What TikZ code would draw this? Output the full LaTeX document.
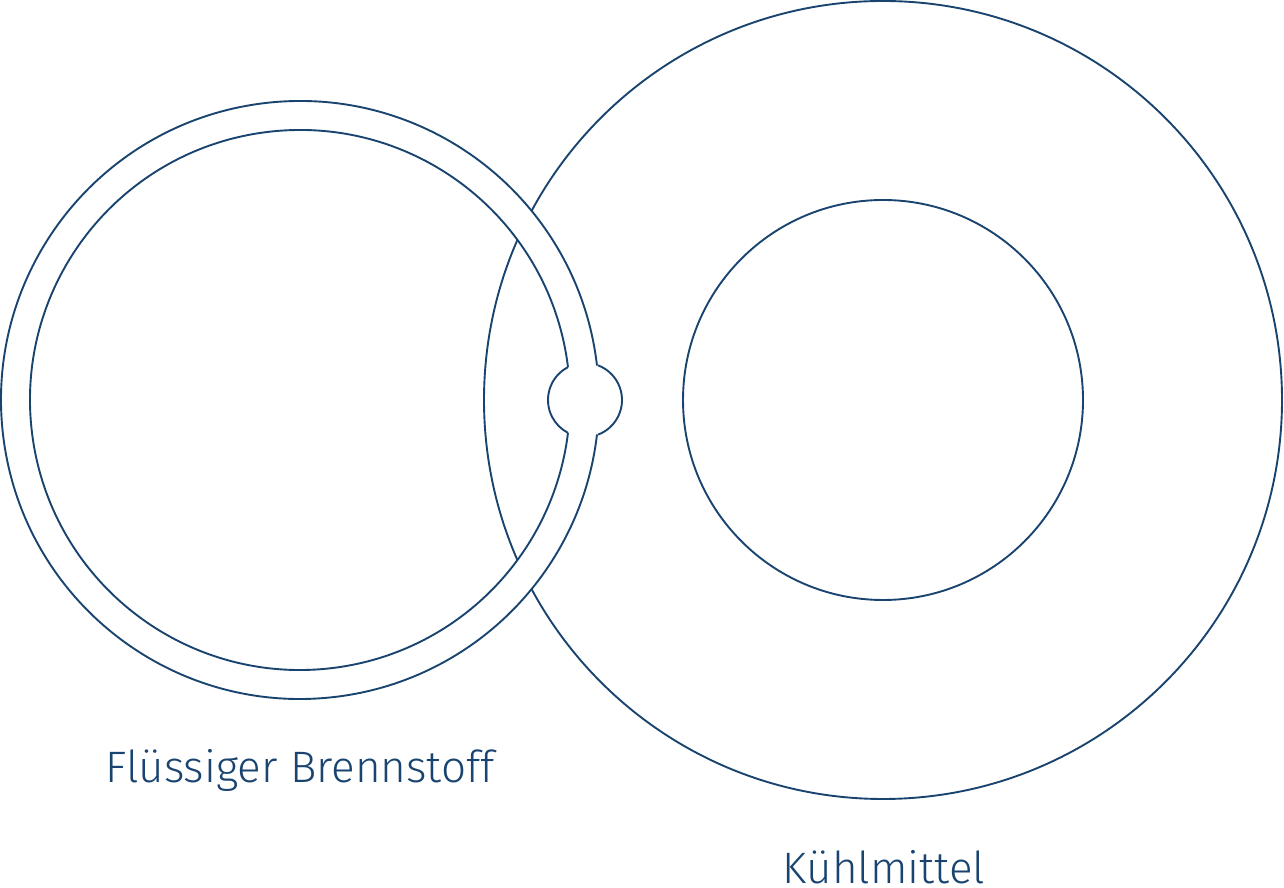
\documentclass[tikz,border=0pt]{standalone}
\usepackage{fontspec}
\setmainfont{Fira Sans}[UprightFont=* Light]
\definecolor{navy}{HTML}{1A4470}
\begin{document}
\begin{tikzpicture}[x=1pt,y=1pt,
  ln/.style={draw=navy,line width=1.9pt},
  lbl/.style={text=navy,font=\fontsize{44}{48}\selectfont,anchor=base,inner sep=0pt}]
\useasboundingbox (0,0) rectangle (1284,888);
% right (coolant) circles
\coordinate (rc) at (883,488);
\draw[ln] (rc) circle[radius=399];
\draw[ln] (rc) circle[radius=200];
% white fill of ring and small connector
\coordinate (lc) at (300,488);
\coordinate (sc) at (585,488);
\fill[white,even odd rule] (lc) circle[radius=299] (lc) circle[radius=270];
\fill[white] (sc) circle[radius=37];
% outer ring circle
\draw[ln] ([shift={(6.62:299)}]lc) arc[start angle=6.62,end angle=353.38,radius=299];
% inner ring circle
\draw[ln] ([shift={(6.98:270)}]lc) arc[start angle=6.98,end angle=353.02,radius=270];
% small circle arcs
\draw[ln] ([shift={(-69.4:37)}]sc) arc[start angle=-69.4,end angle=69.4,radius=37];
\draw[ln] ([shift={(117.4:37)}]sc) arc[start angle=117.4,end angle=242.6,radius=37];
% labels
\node[lbl] (fuel) at (300,105) {Flüssiger Brennstoff};
\node[lbl] (cool) at (884,4) {Kühlmittel};
\end{tikzpicture}
\end{document}
